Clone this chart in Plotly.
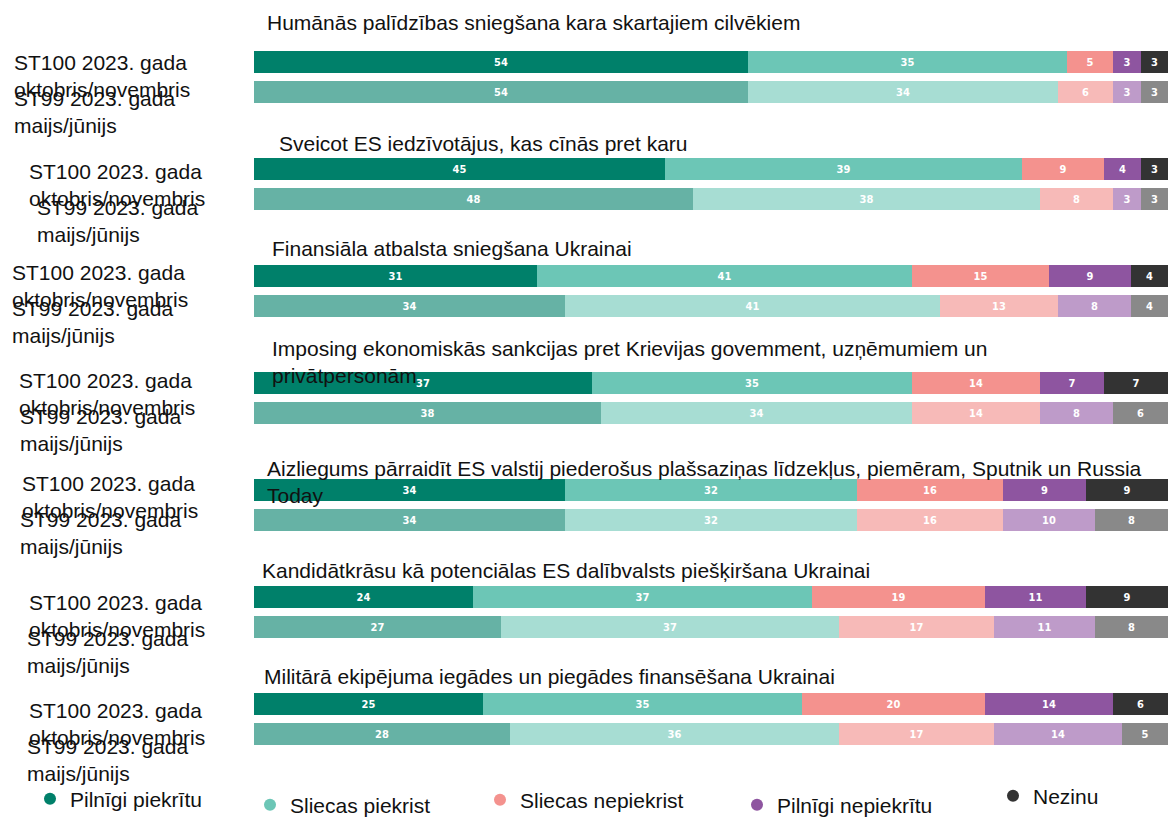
import plotly.graph_objects as go

# ---------------- data ----------------
topics = [
    "Humānās palīdzības sniegšana kara skartajiem cilvēkiem",
    "Sveicot ES iedzīvotājus, kas cīnās pret karu",
    "Finansiāla atbalsta sniegšana Ukrainai",
    "Imposing ekonomiskās sankcijas pret Krievijas govemment, uzņēmumiem un<br>privātpersonām",
    "Aizliegums pārraidīt ES valstij piederošus plašsaziņas līdzekļus, piemēram, Sputnik un Russia<br>Today",
    "Kandidātkrāsu kā potenciālas ES dalībvalsts piešķiršana Ukrainai",
    "Militārā ekipējuma iegādes un piegādes finansēšana Ukrainai",
]
periods = ["ST100 2023. gada<br>oktobris/novembris", "ST99 2023. gada<br>maijs/jūnijs"]
responses = ["Pilnīgi piekrītu", "Sliecas piekrist", "Sliecas nepiekrist", "Pilnīgi nepiekrītu", "Nezinu"]

st100_pilnigi_piekritu = [54, 45, 31, 37, 34, 24, 25]
st100_sliecas_piekrist = [35, 39, 41, 35, 32, 37, 35]
st100_sliecas_nepiekrist = [5, 9, 15, 14, 16, 19, 20]
st100_pilnigi_nepiekritu = [3, 4, 9, 7, 9, 11, 14]
st100_nezinu = [3, 3, 4, 7, 9, 9, 6]

st99_pilnigi_piekritu = [54, 48, 34, 38, 34, 27, 28]
st99_sliecas_piekrist = [34, 38, 41, 34, 32, 37, 36]
st99_sliecas_nepiekrist = [6, 8, 13, 14, 16, 17, 17]
st99_pilnigi_nepiekritu = [3, 3, 8, 8, 10, 11, 14]
st99_nezinu = [3, 3, 4, 6, 8, 8, 5]

st100_series = [st100_pilnigi_piekritu, st100_sliecas_piekrist, st100_sliecas_nepiekrist,
                st100_pilnigi_nepiekritu, st100_nezinu]
st99_series = [st99_pilnigi_piekritu, st99_sliecas_piekrist, st99_sliecas_nepiekrist,
               st99_pilnigi_nepiekritu, st99_nezinu]

# ---------------- styles / layout ----------------
colors_recent = ["#00806A", "#6CC6B6", "#F4928E", "#8E55A0", "#333333"]
colors_earlier = ["#66B2A5", "#A7DDD3", "#F7BAB8", "#BE9BC9", "#898989"]

W, H = 1168, 818
FIRST_ROW = 62
GROUP_STEP = 107
PAIR_STEP = 30
BAR_W = 22
PLOT_LEFT = 254

title_x = [265, 277, 270, 270, 265, 260, 262]
title_dy = [-40, -26, -28, -36, -23, -27, -28]
label_x_recent = [12, 27, 10, 17, 20, 27, 27]
label_x_earlier = [12, 35, 10, 18, 18, 25, 25]
label_dy = [2, 4, -2, -1, -5, 7, 8]

legend_text_x = [75, 295, 525, 782, 1038]
legend_y = [799, 805, 800, 805, 796]

FONT = "Liberation Sans, Arial, sans-serif"
BAR_FONT = "DejaVu Sans Condensed, Liberation Sans Narrow, Arial Narrow, sans-serif"

n = len(topics)
y_recent = [FIRST_ROW + g * GROUP_STEP for g in range(n)]
y_earlier = [FIRST_ROW + g * GROUP_STEP + PAIR_STEP for g in range(n)]

fig = go.Figure()

for k, name in enumerate(responses):
    for vals, ys, col, per in ((st100_series[k], y_recent, colors_recent[k], periods[0]),
                               (st99_series[k], y_earlier, colors_earlier[k], periods[1])):
        fig.add_trace(go.Bar(
            x=vals, y=ys, orientation="h", width=BAR_W,
            marker=dict(color=col, line=dict(width=0)),
            text=vals, textposition="inside", insidetextanchor="middle",
            textangle=0, constraintext="none",
            textfont=dict(color="white", size=11, family=BAR_FONT, weight="bold"),
            name=name, showlegend=False,
            hovertemplate=per.replace("<br>", " ") + "<br>" + name + ": %{x}<extra></extra>",
        ))

# legend entries (circle markers), one legend per entry for exact placement
for k, name in enumerate(responses):
    lid = "legend" if k == 0 else f"legend{k + 1}"
    fig.add_trace(go.Scatter(
        x=[None], y=[None], mode="markers", name=name,
        marker=dict(color=colors_recent[k], size=12, symbol="circle"),
        legend=lid, showlegend=True,
    ))

annotations = []
for g in range(n):
    two_line = "<br>" in topics[g]
    annotations.append(dict(
        text=topics[g], xref="paper", yref="y",
        x=title_x[g] / W, y=y_recent[g] + title_dy[g],
        xanchor="left", yanchor="top" if two_line else "middle",
        yshift=12 if two_line else 0,
        align="left", showarrow=False, font=dict(size=21, color="#111111", family=FONT),
    ))
    annotations.append(dict(
        text=periods[0], xref="paper", yref="y",
        x=label_x_recent[g] / W, y=y_recent[g] + label_dy[g] + 12,
        xanchor="left", yanchor="middle", align="left", showarrow=False,
        font=dict(size=21, color="#111111", family=FONT),
    ))
    annotations.append(dict(
        text=periods[1], xref="paper", yref="y",
        x=label_x_earlier[g] / W, y=y_recent[g] + label_dy[g] + 36 + 12,
        xanchor="left", yanchor="middle", align="left", showarrow=False,
        font=dict(size=21, color="#111111", family=FONT),
    ))

layout_legends = {}
for k in range(len(responses)):
    lid = "legend" if k == 0 else f"legend{k + 1}"
    layout_legends[lid] = dict(
        x=(legend_text_x[k] - 45) / W, y=1 - legend_y[k] / H,
        xref="container", yref="container",
        xanchor="left", yanchor="middle", orientation="h",
        bgcolor="rgba(0,0,0,0)", font=dict(size=21, color="#111111", family=FONT),
        itemclick=False, itemdoubleclick=False,
    )

fig.update_layout(
    width=W, height=H,
    margin=dict(l=0, r=0, t=0, b=0, autoexpand=False),
    paper_bgcolor="white", plot_bgcolor="white",
    barmode="stack", bargap=0,
    xaxis=dict(domain=[PLOT_LEFT / W, 1], range=[0, 100], visible=False, fixedrange=True),
    yaxis=dict(domain=[0, 1], range=[H, 0], visible=False, fixedrange=True),
    annotations=annotations,
    **layout_legends,
)

fig.write_html(
    "out.html",
    config={"displayModeBar": False},
    post_script="document.body.style.margin='0';document.body.style.overflow='hidden';",
)
